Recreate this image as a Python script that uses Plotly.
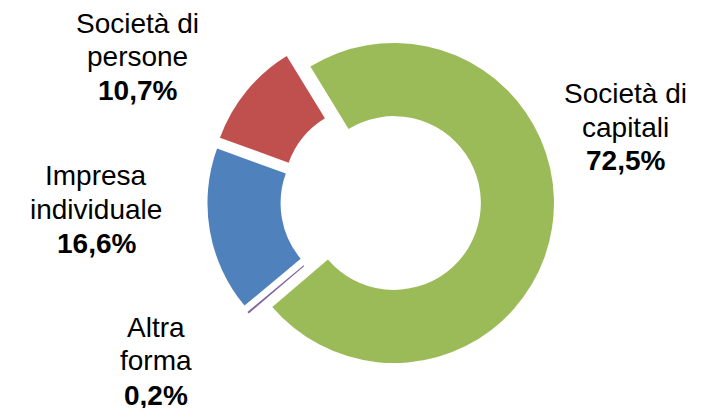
import plotly.graph_objects as go

categories = ["Società di capitali", "Altra forma", "Impresa individuale", "Società di persone"]
values = [72.5, 0.2, 16.6, 10.7]
colors = ["#9BBB59", "#8064A2", "#4F81BD", "#C0504D"]

# label lines: (lines, bold last line, x center px, baselines px)
label_lines = [
    (["Società di", "capitali", "72,5%"], 625, [103, 137, 170.5]),
    (["Altra", "forma", "0,2%"], 156, [337, 370.5, 405]),
    (["Impresa", "individuale", "16,6%"], 96, [185, 219, 253]),
    (["Società di", "persone", "10,7%"], 137, [33, 66.5, 100]),
]

W, H = 705, 408
FS = 28

fig = go.Figure()
fig.add_trace(go.Pie(
    labels=categories,
    values=values,
    marker=dict(colors=colors, line=dict(width=0)),
    hole=0.543,
    sort=False,
    direction="clockwise",
    rotation=-31.5,
    pull=[0.084] * len(values),
    textinfo="none",
    hoverinfo="label+percent",
    domain=dict(x=[0.28, 0.80], y=[0.0825, 0.9327]),
    showlegend=False,
))

annotations = []
for lines, xc, bases in label_lines:
    for i, (t, b) in enumerate(zip(lines, bases)):
        bold = i == len(lines) - 1
        annotations.append(dict(
            x=xc / W, y=1 - (b - 0.3465 * FS) / H,
            xref="paper", yref="paper",
            xanchor="center", yanchor="middle",
            text=f"<b>{t}</b>" if bold else t,
            showarrow=False,
            font=dict(family="Liberation Sans, Arial, sans-serif", size=FS, color="#000000"),
        ))

fig.update_layout(
    width=W, height=H,
    margin=dict(l=0, r=0, t=0, b=0),
    paper_bgcolor="white",
    plot_bgcolor="white",
    annotations=annotations,
)

fig.write_html("out.html")
